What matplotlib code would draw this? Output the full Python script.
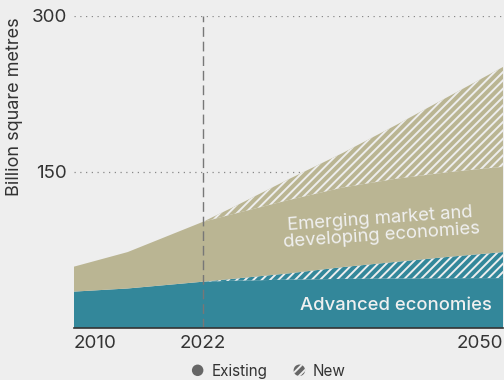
import numpy as np
import matplotlib
matplotlib.use("Agg")
import matplotlib.pyplot as plt
import matplotlib.patches as mpatches
from matplotlib.legend_handler import HandlerPatch

# Floor area, billion square metres
years = [2010, 2015, 2022, 2025, 2030, 2035, 2040, 2045, 2050]
advanced_existing = [35, 38, 44.5, 45.5, 46.5, 47.2, 47.6, 47.9, 48]
advanced_new = [0, 0, 0, 2, 6, 11.3, 16, 20.6, 25]
emde_existing = [24, 35, 57.5, 62.5, 70.5, 76.5, 79.9, 81.5, 82]
emde_new = [0, 0, 0, 7, 20, 33, 51.5, 73, 96]

xtick_years = [2010, 2022, 2050]
ytick_values = [150, 300]
base_year = 2022

BG = "#eeeeee"
TEAL = "#33879a"
TAN = "#bab593"
TEXT = "#333333"
HATCH = "////"

plt.rcParams["font.family"] = ["Inter", "DejaVu Sans"]
plt.rcParams["hatch.linewidth"] = 1.4
plt.rcParams["hatch.color"] = BG

fig = plt.figure(figsize=(5.04, 3.80), dpi=100, facecolor=BG)
ax = fig.add_axes([74 / 504, 52 / 380, 429 / 504, 312 / 380], facecolor=BG)

ax.stackplot(
    years,
    advanced_existing, advanced_new, emde_existing, emde_new,
    colors=[TEAL, TEAL, TAN, TAN],
    hatch=["", HATCH, "", HATCH],
    edgecolor=BG, linewidth=0, zorder=2,
)

ax.set_xlim(2010, 2050)
ax.set_ylim(0, 300)

# dotted horizontal guides
ax.set_yticks(ytick_values)
ax.yaxis.grid(True, color="#888888", linestyle=(0, (1, 3.6)), linewidth=0.9)
ax.set_axisbelow(True)

# base-year marker
ax.axvline(base_year, color="#777777", linestyle=(0, (7, 3.5)), linewidth=1.0, zorder=3)

ax.set_xticks(xtick_years)
ax.set_xticklabels([str(y) for y in xtick_years])
for lab, ha in zip(ax.get_xticklabels(), ["left", "center", "right"]):
    lab.set_horizontalalignment(ha)
ax.tick_params(axis="both", length=0, labelsize=13.5, labelcolor=TEXT)
ax.tick_params(axis="x", pad=5)
ax.tick_params(axis="y", pad=5)

for side in ["left", "right", "top"]:
    ax.spines[side].set_visible(False)
ax.spines["bottom"].set_color(TEXT)
ax.spines["bottom"].set_linewidth(1.2)
ax.spines["bottom"].set_zorder(4)

fig.text(15 / 504, 1 - 17 / 380, "Billion square metres", rotation=90,
         ha="center", va="top", fontsize=13, color=TEXT)

ax.text(2040, 22, "Advanced economies", ha="center", va="center",
        fontsize=13.3, color="#f0f0f0", fontweight="medium", zorder=5)
ax.text(2038.6, 97, "Emerging market and\ndeveloping economies", ha="center",
        va="center", fontsize=13.3, color="#f0f0f0", rotation=4,
        rotation_mode="anchor", linespacing=1.0, zorder=5)


def make_circle(legend, orig_handle, xdescent, ydescent, width, height, fontsize):
    r = 0.42 * height
    return mpatches.Circle((width / 2 - xdescent, height / 2 - ydescent), r)


handles = [
    mpatches.Patch(facecolor="#666666", edgecolor="#666666", linewidth=0, label="Existing"),
    mpatches.Patch(facecolor="#666666", edgecolor=BG, linewidth=0, hatch="////", label="New"),
]
fig.legend(
    handles=handles,
    loc="center",
    bbox_to_anchor=(268 / 504, 1 - 371 / 380),
    ncol=2,
    frameon=False,
    fontsize=11,
    labelcolor=TEXT,
    handlelength=1.0,
    handleheight=1.0,
    handletextpad=0.4,
    columnspacing=1.6,
    handler_map={mpatches.Patch: HandlerPatch(patch_func=make_circle)},
)

fig.savefig("out.png", dpi=100, facecolor=BG)
